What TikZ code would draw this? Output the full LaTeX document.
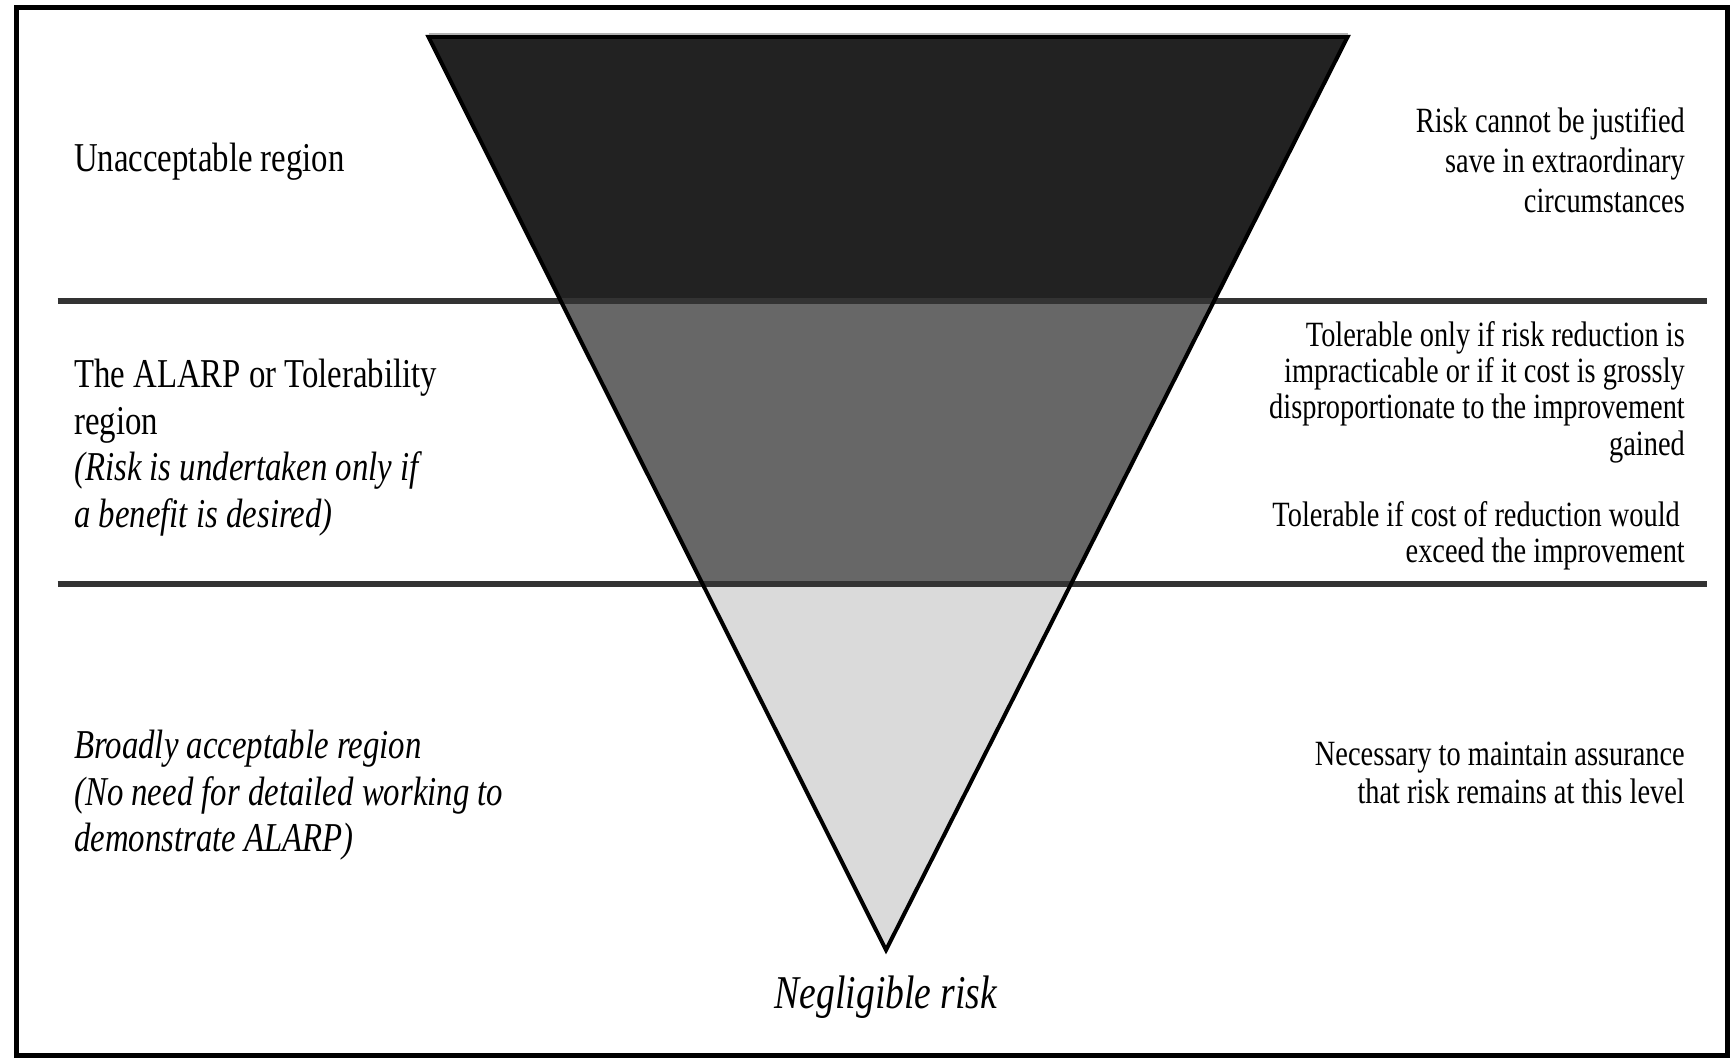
\documentclass[tikz,border=0pt]{standalone}
\usepackage{fontspec}
\setmainfont{Liberation Serif}[FakeStretch=0.8]
\definecolor{bandA}{HTML}{222222}
\definecolor{bandB}{HTML}{676767}
\definecolor{bandC}{HTML}{DADADA}
\definecolor{sepgray}{HTML}{333333}
\begin{document}
\begin{tikzpicture}[x=1pt,y=-1pt,
  lefttext/.style={anchor=base west,inner sep=0pt,font=\fontsize{41}{46}\selectfont},
  leftital/.style={anchor=base west,inner sep=0pt,font=\fontsize{41}{46}\selectfont\itshape},
  righttext/.style={anchor=base east,inner sep=0pt,font=\fontsize{35.5}{36}\selectfont},
  bottomlabel/.style={anchor=base,inner sep=0pt,font=\fontsize{47}{50}\selectfont\itshape},
  sepline/.style={draw=sepgray,line width=6pt},
  triedge/.style={draw=black,line width=4pt,line join=miter},
  frameline/.style={draw=black,line width=5pt}]
\useasboundingbox (0,0) rectangle (1736,1057);
\fill[white] (0,0) rectangle (1736,1057);
% frame
\coordinate (F1) at (16,8);
\coordinate (F2) at (1727,8);
\coordinate (F3) at (1727,1055);
\coordinate (F4) at (16,1055);
\draw[frameline] (F3) -- (F2) -- (F1) -- (F4) -- cycle;
% triangle
\coordinate (TL) at (428.5,37);
\coordinate (TR) at (1347.5,37);
\coordinate (AP) at (886,950);
\begin{scope}
  \clip (TL) -- (TR) -- (AP) -- cycle;
  \fill[bandA] (0,0) rectangle (1736,301);
  \fill[bandB] (0,301) rectangle (1736,583.5);
  \fill[bandC] (0,583.5) rectangle (1736,1057);
\end{scope}
% separator lines
\coordinate (S1a) at (57.5,301);
\coordinate (S1b) at (1707,301);
\coordinate (S2a) at (57.5,583.5);
\coordinate (S2b) at (1707,583.5);
\draw[sepline] (S1a) -- (S1b);
\draw[sepline] (S2a) -- (S2b);
\draw[triedge] (TL) -- (TR) -- (AP) -- cycle;
\coordinate (GL) at (428.5,34);
\coordinate (GR) at (1347.5,34);
\draw[draw=black!30,line width=2pt] (GL) -- (GR);
% left texts
\node[lefttext] (u1) at (74,171.5) {Unacceptable region};
\node[lefttext] (a1) at (74,387.5) {The ALARP or Tolerability};
\node[lefttext] (a2) at (74,434) {region};
\node[leftital] (a3) at (74,480.5) {(Risk is undertaken only if};
\node[leftital] (a4) at (74,527) {a benefit is desired)};
\node[leftital] (b1) at (74,758) {Broadly acceptable region};
\node[leftital] (b2) at (74,805) {(No need for detailed working to};
\node[leftital] (b3) at (74,851) {demonstrate ALARP)};
% right texts
\node[righttext] (r1) at (1685,132) {Risk cannot be justified};
\node[righttext] (r2) at (1685,172.5) {save in extraordinary};
\node[righttext] (r3) at (1685,212.5) {circumstances};
\node[righttext] (t1) at (1685,346.5) {Tolerable only if risk reduction is};
\node[righttext] (t2) at (1685,382.5) {impracticable or if it cost is grossly};
\node[righttext] (t3) at (1685,418.5) {disproportionate to the improvement};
\node[righttext] (t4) at (1685,455) {gained};
\node[righttext] (c1) at (1680,526) {Tolerable if cost of reduction would};
\node[righttext] (c2) at (1685,562) {exceed the improvement};
\node[righttext] (n1) at (1685,765) {Necessary to maintain assurance};
\node[righttext] (n2) at (1685,803.5) {that risk remains at this level};
% bottom label
\node[bottomlabel] (neg) at (886,1008) {Negligible risk};
\end{tikzpicture}
\end{document}
